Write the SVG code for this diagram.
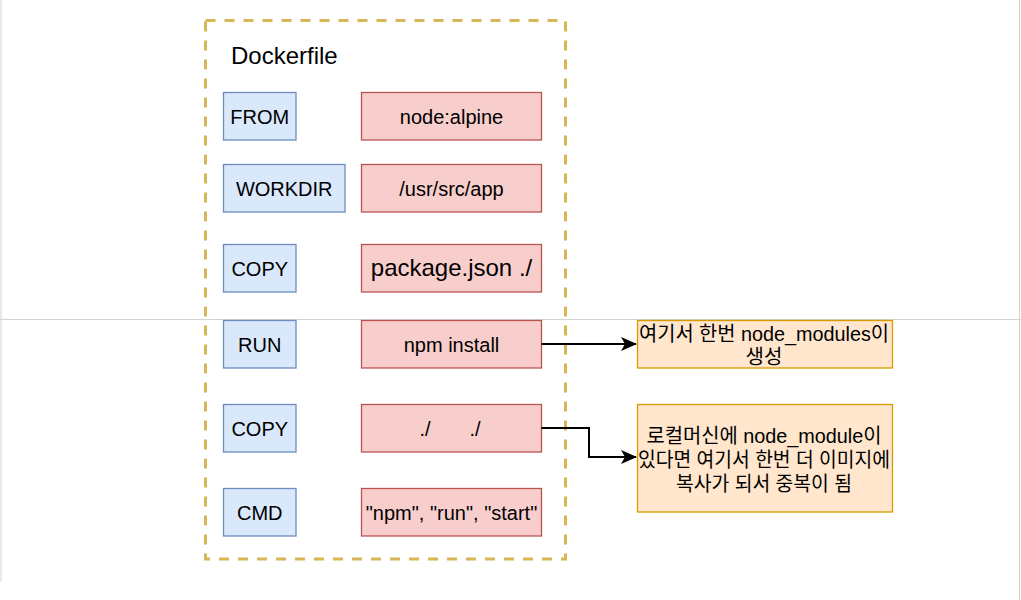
<svg xmlns="http://www.w3.org/2000/svg" width="1021" height="600" viewBox="0 0 1021 600">
<style>
  text { font-family: "Liberation Sans", Arial, "Noto Sans CJK KR", sans-serif; fill: #000; }
  .t20 { font-size: 20px; text-anchor: middle; }
  .blue { fill: #dae8fc; stroke: #6c8ebf; stroke-width: 1.3; }
  .red { fill: #f8cecc; stroke: #b85450; stroke-width: 1.3; }
  .orange { fill: #ffe6cc; stroke: #d79b00; stroke-width: 1.3; }
  .page { stroke: #d4d4d4; stroke-width: 1; fill: none; }
  .conn { fill: none; stroke: #000; stroke-width: 2; }
</style>
<defs>
  <marker id="arrow" viewBox="0 0 16 16" refX="15" refY="8" markerWidth="16" markerHeight="16" markerUnits="userSpaceOnUse" orient="auto">
    <path d="M0,1 L16,8 L0,15 L4,8 Z" fill="#000"/>
  </marker>
</defs>
<rect x="0" y="0" width="1021" height="600" fill="#fff"/>
<g id="page-lines">
  <line class="page" x1="1" y1="0" x2="1" y2="582"/>
  <line class="page" x1="1019.5" y1="0" x2="1019.5" y2="600"/>
  <line class="page" x1="0" y1="319.5" x2="1021" y2="319.5"/>
</g>
<g id="dockerfile">
  <rect x="205.5" y="20.5" width="360" height="538.5" fill="none" stroke="#d6b656" stroke-width="3" stroke-dasharray="10 9"/>
  <text x="231" y="64" style="font-size:24px">Dockerfile</text>
</g>
<g id="from">
  <rect class="blue" x="223.5" y="92.5" width="72.5" height="47.5"/>
  <text class="t20" x="259.75" y="124">FROM</text>
</g>
<g id="from-val">
  <rect class="red" x="361.5" y="92.5" width="180" height="47.5"/>
  <text class="t20" x="451.5" y="124">node:alpine</text>
</g>
<g id="workdir">
  <rect class="blue" x="223.5" y="164.5" width="121.5" height="47.5"/>
  <text class="t20" x="284.25" y="196">WORKDIR</text>
</g>
<g id="workdir-val">
  <rect class="red" x="361.5" y="164.5" width="180" height="47.5"/>
  <text class="t20" x="451.5" y="196">/usr/src/app</text>
</g>
<g id="copy1">
  <rect class="blue" x="223.5" y="244.5" width="72.5" height="47.5"/>
  <text class="t20" x="259.75" y="276">COPY</text>
</g>
<g id="copy1-val">
  <rect class="red" x="361.5" y="244.5" width="180" height="47.5"/>
  <text x="451.5" y="276" style="font-size:24px;text-anchor:middle">package.json ./</text>
</g>
<g id="run">
  <rect class="blue" x="223.5" y="320.5" width="72.5" height="47.5"/>
  <text class="t20" x="259.75" y="352">RUN</text>
</g>
<g id="run-val">
  <rect class="red" x="361.5" y="320.5" width="180" height="47.5"/>
  <text class="t20" x="451.5" y="352">npm install</text>
</g>
<g id="copy2">
  <rect class="blue" x="223.5" y="404.5" width="72.5" height="47.5"/>
  <text class="t20" x="259.75" y="436">COPY</text>
</g>
<g id="copy2-val">
  <rect class="red" x="361.5" y="404.5" width="180" height="47.5"/>
  <text class="t20" x="450" y="436" xml:space="preserve" style="white-space:pre">./       ./</text>
</g>
<g id="cmd">
  <rect class="blue" x="223.5" y="488.5" width="72.5" height="47.5"/>
  <text class="t20" x="259.75" y="520">CMD</text>
</g>
<g id="cmd-val">
  <rect class="red" x="361.5" y="488.5" width="180" height="47.5"/>
  <text class="t20" x="451.5" y="520">"npm", "run", "start"</text>
</g>
<g id="note1">
  <rect class="orange" x="637.5" y="320.5" width="255" height="47.5"/>
  <text class="t20" x="764" y="341" textLength="250" lengthAdjust="spacingAndGlyphs">여기서 한번 node_modules이</text>
  <text class="t20" x="764" y="364">생성</text>
</g>
<g id="note2">
  <rect class="orange" x="637.5" y="404.5" width="255" height="107.5"/>
  <text class="t20" x="764" y="443" textLength="235" lengthAdjust="spacingAndGlyphs">로컬머신에 node_module이</text>
  <text class="t20" x="764" y="467" textLength="252" lengthAdjust="spacingAndGlyphs">있다면 여기서 한번 더 이미지에</text>
  <text class="t20" x="764" y="491" textLength="176" lengthAdjust="spacingAndGlyphs">복사가 되서 중복이 됨</text>
</g>
<g id="connectors">
  <path class="conn" d="M541.5,344 H636" marker-end="url(#arrow)"/>
  <path class="conn" d="M541.5,428 H589 V457 H636" marker-end="url(#arrow)"/>
</g>
</svg>
